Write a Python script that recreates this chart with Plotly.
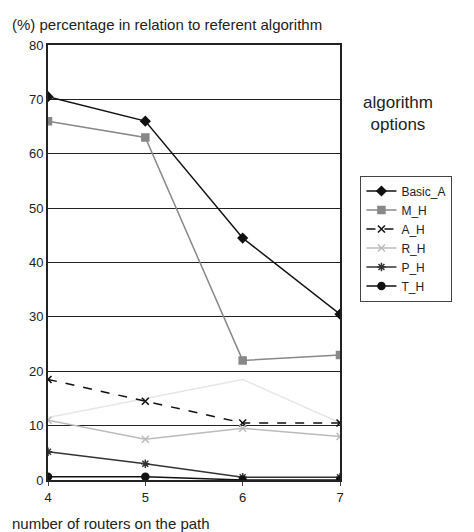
import plotly.graph_objects as go

routers = [4, 5, 6, 7]
basic_a = [70.5, 66, 44.5, 30.5]
m_h = [66, 63, 22, 23]
a_h = [18.5, 14.5, 10.5, 10.5]
r_h = [11, 7.5, 9.5, 8]
p_h = [5.2, 3, 0.5, 0.5]
t_h = [0.6, 0.6, 0, 0]
faint = [11.5, None, 18.5, 10.5]

series = [
    ("Basic_A", basic_a, "#111111", "solid", "diamond"),
    ("M_H", m_h, "#888888", "solid", "square"),
    ("A_H", a_h, "#111111", "dash", "x-thin"),
    ("R_H", r_h, "#bbbbbb", "solid", "x-thin"),
    ("P_H", p_h, "#333333", "solid", "asterisk"),
    ("T_H", t_h, "#111111", "solid", "circle"),
]

fig = go.Figure()
fig.add_trace(go.Scatter(x=routers, y=faint, mode="lines", connectgaps=True,
                         line=dict(color="#e6e6e6", width=1.5), showlegend=False))
for name, vals, color, dash, sym in series:
    fig.add_trace(go.Scatter(
        x=routers, y=vals, name=name, mode="lines+markers",
        line=dict(color=color, width=1.5, dash=dash),
        marker=dict(symbol=sym, size=7, color=color, line=dict(color=color, width=1.5)),
    ))

fig.update_layout(
    width=474, height=532,
    paper_bgcolor="white", plot_bgcolor="white",
    margin=dict(l=40, r=142, t=37, b=60),
    font=dict(family="Liberation Sans, Arial", size=13, color="#222"),
    legend=dict(x=1.07, y=0.7, xanchor="left", yanchor="top",
                bordercolor="#444", borderwidth=1, font=dict(size=12),
                tracegroupgap=8),
    annotations=[
        dict(text="(%) percentage in relation to referent algorithm", x=-0.13, y=1.0,
             xref="paper", yref="paper", xanchor="left", yanchor="bottom",
             yshift=10, showarrow=False, font=dict(size=15)),
        dict(text="algorithm<br>options", x=1.2, y=0.79, xref="paper", yref="paper",
             xanchor="center", yanchor="bottom", showarrow=False, font=dict(size=17)),
        dict(text="number of routers on the path", x=-0.13, y=0, xref="paper", yref="paper",
             xanchor="left", yanchor="top", yshift=-33, showarrow=False, font=dict(size=15)),
    ],
)
fig.update_xaxes(range=[4, 7], tickvals=routers, showgrid=False, zeroline=False,
                 showline=True, linecolor="#222", linewidth=2, mirror=True,
                 ticks="outside", ticklen=4)
fig.update_yaxes(range=[0, 80], dtick=10, showgrid=True, gridcolor="#222", gridwidth=1,
                 zeroline=False, showline=True, linecolor="#222", linewidth=2, mirror=True)

fig.write_html("out.html")
